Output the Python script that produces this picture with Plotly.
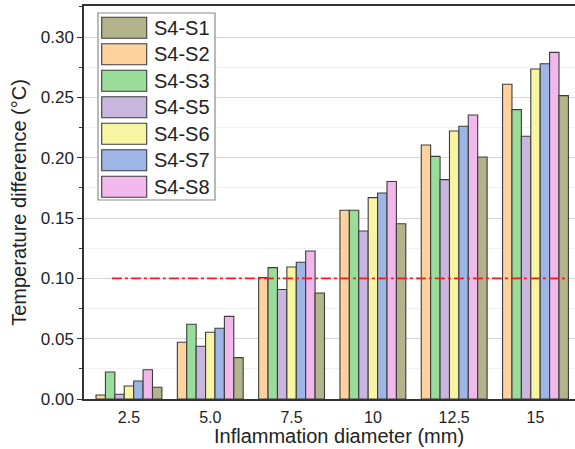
import plotly.graph_objects as go

# Inflammation diameter groups (mm)
diameters = ["2.5", "5.0", "7.5", "10", "12.5", "15"]

# Temperature difference (°C) per sensor pair
s4_s1 = [0.0097, 0.0343, 0.0878, 0.1453, 0.2006, 0.2514]
s4_s2 = [0.0033, 0.0470, 0.1006, 0.1564, 0.2105, 0.2608]
s4_s3 = [0.0224, 0.0619, 0.1089, 0.1564, 0.2011, 0.2398]
s4_s5 = [0.0039, 0.0437, 0.0907, 0.1392, 0.1818, 0.2177]
s4_s6 = [0.0108, 0.0553, 0.1094, 0.1669, 0.2221, 0.2735]
s4_s7 = [0.0149, 0.0586, 0.1133, 0.1707, 0.2260, 0.2779]
s4_s8 = [0.0243, 0.0685, 0.1226, 0.1802, 0.2354, 0.2873]

threshold = 0.10

series = {
    "S4-S1": (s4_s1, "#b3b38c"),
    "S4-S2": (s4_s2, "#fdd29c"),
    "S4-S3": (s4_s3, "#9adc9a"),
    "S4-S5": (s4_s5, "#c9b6de"),
    "S4-S6": (s4_s6, "#f8f5a2"),
    "S4-S7": (s4_s7, "#9db6e5"),
    "S4-S8": (s4_s8, "#f1b8ec"),
}
legend_order = ["S4-S1", "S4-S2", "S4-S3", "S4-S5", "S4-S6", "S4-S7", "S4-S8"]
bar_order = ["S4-S2", "S4-S3", "S4-S5", "S4-S6", "S4-S7", "S4-S8", "S4-S1"]

W, H = 575, 449
ML, MR, MT, MB = 84, 0, 6, 50
FONT = "Liberation Sans, Arial, sans-serif"
TXT = "#222222"

xpos = list(range(len(diameters)))

fig = go.Figure()
for name in bar_order:
    vals, col = series[name]
    fig.add_trace(go.Bar(
        x=xpos, y=vals, name=name, showlegend=False,
        marker=dict(color=col, line=dict(color="#3c3c3c", width=1.1)),
    ))

# horizontal reference line at the threshold
fig.add_shape(type="line", xref="x", yref="y", x0=-0.21, x1=5.39,
              y0=threshold, y1=threshold, layer="above",
              line=dict(color="#ff1a1a", width=1.6, dash="10px,3px,3px,3px"))


def px_x(p):
    return (p - ML) / (W - ML - MR)


def px_y(p):
    return (H - MB - p) / (H - MT - MB)


# boxed legend with large swatches
fig.add_shape(type="rect", xref="paper", yref="paper",
              x0=px_x(98), x1=px_x(215), y0=px_y(200), y1=px_y(13),
              fillcolor="white", line=dict(color="#8c8c8c", width=1.2), layer="above")
for i, name in enumerate(legend_order):
    cy = 27.8 + i * 26.5
    fig.add_shape(type="rect", xref="paper", yref="paper",
                  x0=px_x(101.7), x1=px_x(146.7), y0=px_y(cy + 10.5), y1=px_y(cy - 10.5),
                  fillcolor=series[name][1], line=dict(color="#3c3c3c", width=1.1), layer="above")
    fig.add_annotation(xref="paper", yref="paper", x=px_x(152), y=px_y(cy),
                       text=name, showarrow=False, xanchor="left", yanchor="middle",
                       font=dict(family=FONT, size=20, color=TXT))

# x-axis title
fig.add_annotation(xref="paper", yref="paper", x=px_x(339), y=px_y(436),
                   text="Inflammation diameter (mm)", showarrow=False,
                   xanchor="center", yanchor="middle",
                   font=dict(family=FONT, size=20, color=TXT))

fig.update_layout(
    width=W, height=H,
    margin=dict(l=ML, r=MR, t=MT, b=MB, pad=0),
    paper_bgcolor="white", plot_bgcolor="white",
    barmode="group", bargap=0.19, bargroupgap=0,
    font=dict(family=FONT, size=17, color=TXT),
)
fig.update_xaxes(
    range=[-0.553, 5.486], tickmode="array", tickvals=xpos, ticktext=diameters,
    showgrid=False, zeroline=False, showline=True, linecolor="#333333", linewidth=1.5,
    mirror=True, ticks="", tickfont=dict(size=16), ticklabelstandoff=3,
)
fig.update_yaxes(
    range=[0, 0.3257], tick0=0, dtick=0.05, tickformat=".2f",
    showgrid=True, gridcolor="#d6d6d6", gridwidth=1, zeroline=False,
    showline=True, linecolor="#333333", linewidth=1.5, mirror=False,
    ticks="outside", ticklen=5, tickcolor="#333333", tickwidth=1.2, tickfont=dict(size=17),
    minor=dict(dtick=0.025, tick0=0, ticks="outside", ticklen=3, tickcolor="#333333",
               showgrid=True, gridcolor="#f1f1f1", gridwidth=1),
    title=dict(text="Temperature difference (°C)", font=dict(size=20), standoff=9),
)

fig.write_html("out.html")
